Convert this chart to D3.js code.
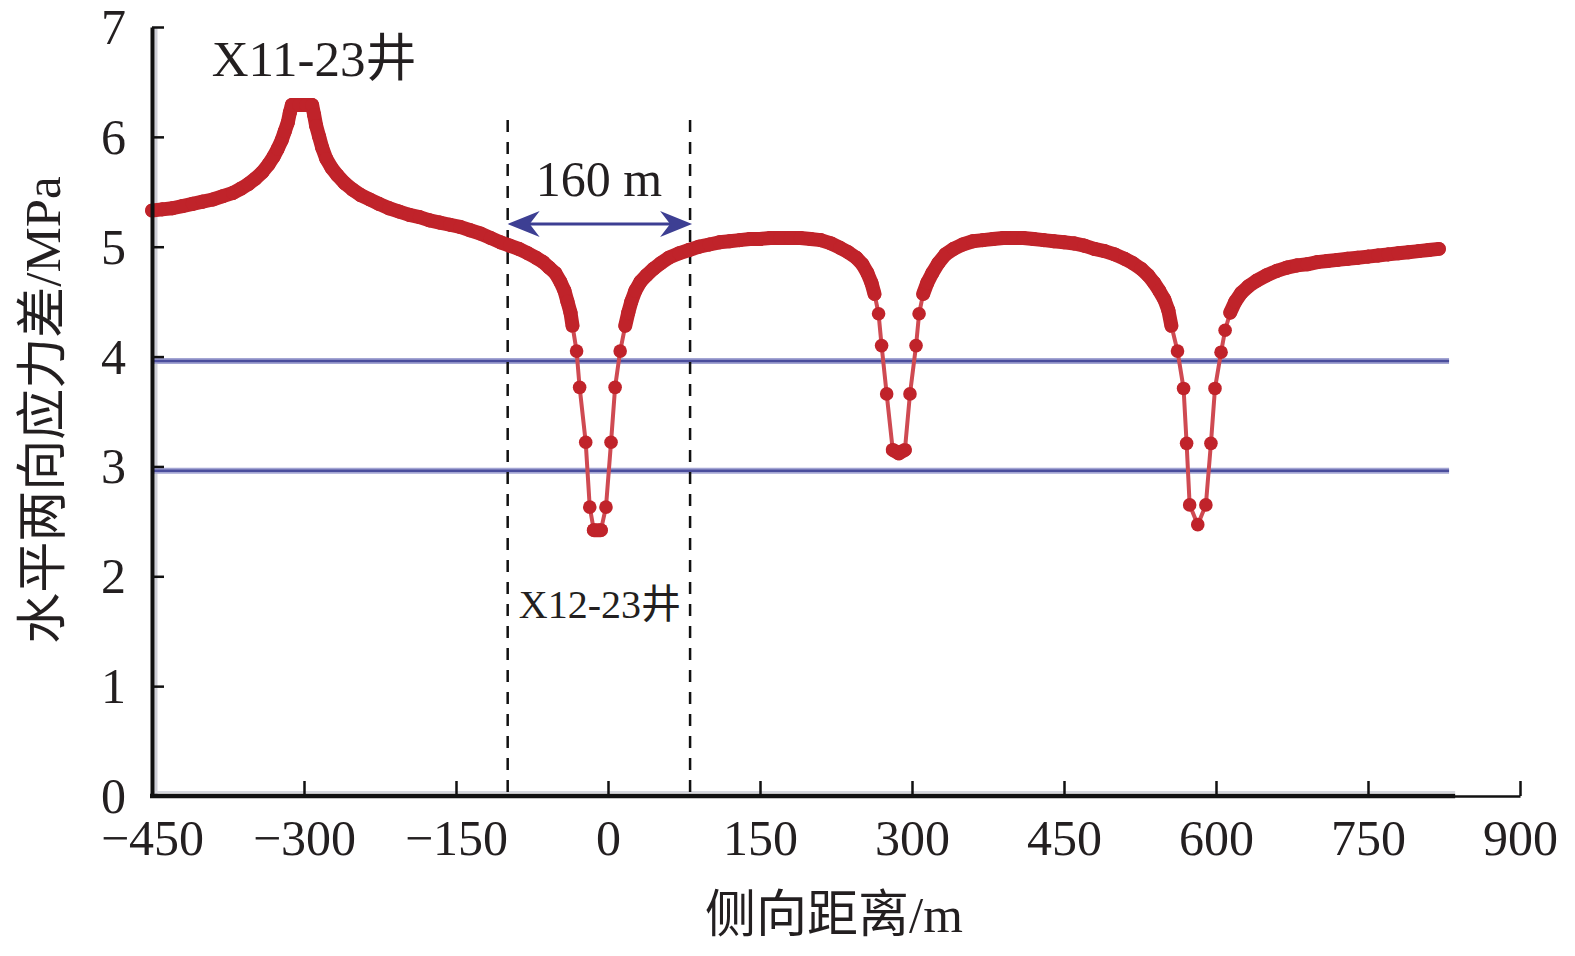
<!DOCTYPE html>
<html>
<head>
<meta charset="utf-8">
<script src="https://cdn.jsdelivr.net/npm/d3@7/dist/d3.min.js"></script>
<style>
  html, body { margin: 0; padding: 0; background: #fff; }
  svg { display: block; }
  text { font-family: "Liberation Serif", "Times New Roman", "Noto Sans CJK SC", serif; fill: #231f20; }
</style>
</head>
<body>
<svg id="chart" width="1575" height="956"></svg>
<script>
// ---- Data ----
const distance = [
  -450,-440,-430,-420,-410,-400,-390,-380,-370,-362,-355,-348,-341,-335,-330,-326,-322,-319,-316,-314,
  -312,-305,-298,-292,-290,-288,-285,-282,-278,-273,-267,-260,-252,-244,-235,-226,-216,-206,-196,-186,
  -176,-166,-156,-146,-136,-126,-116,-106,-97,-88,-79,-71,-64,-58,-52,-47,-43,-40,-37,-35,
  -31,-28,-22,-18,-14,-7,-2,3,7,12,17,20,23,27,32,38,45,52,60,70,
  80,90,100,110,120,130,140,150,160,170,180,190,200,210,220,229,237,245,251,256,
  260,263,267,270,275,281,287,293,298,304,307,311,315,320,326,333,341,350,360,370,
  380,390,400,410,420,430,440,450,460,470,480,490,500,510,518,526,533,539,544,549,
  553,556,562,568,571,574,582,590,595,599,605,609,614,619,625,632,640,650,660,670,
  680,690,700,710,720,730,740,750,760,770,780,790,800,810,820
];
const stressDiff = [
  5.33,5.34,5.35,5.37,5.39,5.41,5.43,5.46,5.49,5.53,5.57,5.62,5.68,5.75,5.82,5.89,5.97,6.05,6.13,6.22,
  6.29,6.29,6.29,6.29,6.20,6.10,6.00,5.90,5.80,5.72,5.65,5.58,5.52,5.47,5.43,5.39,5.35,5.32,5.29,5.27,
  5.24,5.22,5.20,5.18,5.15,5.12,5.08,5.04,5.01,4.98,4.94,4.90,4.86,4.81,4.76,4.68,4.60,4.50,4.40,4.28,
  4.05,3.72,3.22,2.63,2.42,2.42,2.63,3.22,3.72,4.05,4.28,4.40,4.50,4.60,4.68,4.74,4.80,4.85,4.90,4.94,
  4.97,5.00,5.02,5.04,5.05,5.06,5.07,5.07,5.08,5.08,5.08,5.08,5.07,5.06,5.03,4.99,4.95,4.90,4.84,4.76,
  4.67,4.57,4.39,4.10,3.66,3.15,3.12,3.15,3.66,4.10,4.39,4.57,4.67,4.76,4.85,4.93,4.98,5.02,5.05,5.06,
  5.07,5.08,5.08,5.08,5.07,5.06,5.05,5.04,5.03,5.01,4.98,4.96,4.93,4.89,4.85,4.80,4.74,4.67,4.60,4.52,
  4.42,4.28,4.05,3.71,3.21,2.65,2.47,2.65,3.21,3.71,4.04,4.24,4.40,4.50,4.58,4.64,4.69,4.74,4.78,4.81,
  4.83,4.84,4.86,4.87,4.88,4.89,4.90,4.91,4.92,4.93,4.94,4.95,4.96,4.97,4.98
];
const thresholdLevels = [3.96, 2.96];
const thresholdExtent = [-450, 830];
const xTicks = [-450,-300,-150,0,150,300,450,600,750,900];
const yTicks = [0,1,2,3,4,5,6,7];
const wellLines = [-99, 81];
const spacingLabel = "160 m";
const wellA = { label: "X11-23井", x: -290, y: 6.55 };
const wellB = { label: "X12-23井", x: -8, y: 1.62 };
const xTitle = "侧向距离/m";
const yTitle = "水平两向应力差/MPa";

// ---- Scales ----
const svg = d3.select("#chart");
const x = d3.scaleLinear().domain([-450, 900]).range([152, 1520]);
const y = d3.scaleLinear().domain([0, 7]).range([796, 27]);

const RED = "#c0232a";
const BLUE = "#4a4d9c";

// axis shadows (light gray as in reference)
svg.append("line").attr("x1", x(-450) + 4).attr("x2", x(-450) + 4)
  .attr("y1", y(7)).attr("y2", y(0)).attr("stroke", "#cfd0d8").attr("stroke-width", 3);
svg.append("line").attr("x1", x(-450)).attr("x2", x(836))
  .attr("y1", y(0) - 4).attr("y2", y(0) - 4).attr("stroke", "#d6d7de").attr("stroke-width", 2);

// threshold lines
thresholdLevels.forEach(v => {
  svg.append("line").attr("x1", x(thresholdExtent[0])).attr("x2", x(thresholdExtent[1]))
    .attr("y1", y(v)).attr("y2", y(v)).attr("stroke", "#a3a5d3").attr("stroke-width", 6);
  svg.append("line").attr("x1", x(thresholdExtent[0])).attr("x2", x(thresholdExtent[1]))
    .attr("y1", y(v)).attr("y2", y(v)).attr("stroke", BLUE).attr("stroke-width", 2.5);
});

// dashed well lines
wellLines.forEach(v => {
  svg.append("line").attr("x1", x(v)).attr("x2", x(v))
    .attr("y1", 120).attr("y2", y(0))
    .attr("stroke", "#111").attr("stroke-width", 2.5).attr("stroke-dasharray", "12,10");
});

// curve: segments between densely placed markers merge into a thick band,
// long segments (steep dips) stay thin as in the reference
const pts = distance.map((d, i) => [d, stressDiff[i]]);
const segs = d3.pairs(pts);
const segLen = d => Math.hypot(x(d[1][0]) - x(d[0][0]), y(d[1][1]) - y(d[0][1]));
svg.append("g").selectAll("line").data(segs).join("line")
  .attr("x1", d => x(d[0][0])).attr("y1", d => y(d[0][1]))
  .attr("x2", d => x(d[1][0])).attr("y2", d => y(d[1][1]))
  .attr("stroke", d => segLen(d) < 17 ? RED : "#cf4a52")
  .attr("stroke-linecap", "round")
  .attr("stroke-width", d => segLen(d) < 17 ? 14 : 4);
svg.append("g").selectAll("circle").data(pts).join("circle")
  .attr("cx", d => x(d[0])).attr("cy", d => y(d[1])).attr("r", 6.8)
  .attr("fill", RED);

// axes
const xAxis = d3.axisBottom(x).tickValues(xTicks).tickSizeInner(-15).tickSizeOuter(0).tickPadding(23)
  .tickFormat(d3.format("d"));
const gx = svg.append("g").attr("transform", `translate(0,${y(0)})`).call(xAxis);
gx.select(".domain").attr("stroke", "#111").attr("stroke-width", 2.5);
gx.selectAll(".tick line").attr("stroke", "#111").attr("stroke-width", 2.5);
gx.selectAll(".tick text").attr("font-size", 50).attr("fill", "#231f20")
  .attr("font-family", "Liberation Serif, serif");
svg.append("line").attr("x1", x(-450) - 2).attr("x2", x(836))
  .attr("y1", y(0)).attr("y2", y(0)).attr("stroke", "#111").attr("stroke-width", 4.5);

const yAxis = d3.axisLeft(y).tickValues(yTicks).tickSizeInner(-12).tickSizeOuter(0).tickPadding(26)
  .tickFormat(d3.format("d"));
const gy = svg.append("g").attr("transform", `translate(${x(-450)},0)`).call(yAxis);
gy.select(".domain").attr("stroke", "#111").attr("stroke-width", 4);
gy.selectAll(".tick line").attr("stroke", "#111").attr("stroke-width", 2.5);
gy.selectAll(".tick text").attr("font-size", 50).attr("fill", "#231f20")
  .attr("font-family", "Liberation Serif, serif").attr("dy", "0.33em");

// axis titles
svg.append("text").attr("x", 834).attr("y", 932).attr("text-anchor", "middle")
  .attr("font-size", 51).text(xTitle);
svg.append("text").attr("transform", `translate(60,410) rotate(-90)`).attr("text-anchor", "middle")
  .attr("font-size", 51).text(yTitle);

// annotations
svg.append("text").attr("x", x(wellA.x)).attr("y", y(wellA.y)).attr("text-anchor", "middle")
  .attr("font-size", 51).text(wellA.label);
svg.append("text").attr("x", x(wellB.x)).attr("y", y(wellB.y)).attr("text-anchor", "middle")
  .attr("font-size", 40).text(wellB.label);
svg.append("text").attr("x", (x(wellLines[0]) + x(wellLines[1])) / 2).attr("y", 196)
  .attr("text-anchor", "middle").attr("font-size", 50).text(spacingLabel);

// double-headed arrow
const ay = 224, ax1 = x(wellLines[0]), ax2 = x(wellLines[1]) + 2;
svg.append("line").attr("x1", ax1 + 20).attr("x2", ax2 - 20).attr("y1", ay).attr("y2", ay)
  .attr("stroke", "#3d3f93").attr("stroke-width", 3);
const head = (tx, dir) => {
  const L = 32, W = 13, N = 22;
  return `M${tx},${ay} L${tx + dir * L},${ay - W} L${tx + dir * N},${ay} L${tx + dir * L},${ay + W} Z`;
};
svg.append("path").attr("d", head(ax1, 1)).attr("fill", "#3d3f93");
svg.append("path").attr("d", head(ax2, -1)).attr("fill", "#3d3f93");
</script>
</body>
</html>
